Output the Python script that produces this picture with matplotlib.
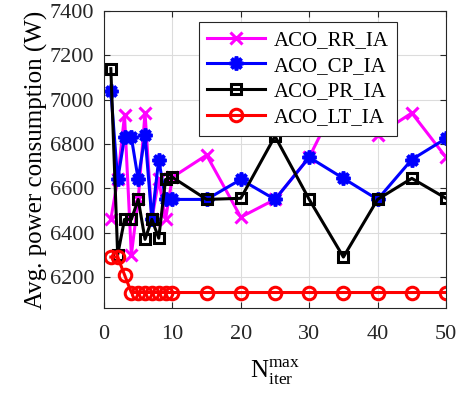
import matplotlib
matplotlib.use('Agg')
import matplotlib.pyplot as plt

plt.rcParams['font.family'] = ['Liberation Serif', 'DejaVu Serif']
plt.rcParams['mathtext.fontset'] = 'custom'
plt.rcParams['mathtext.rm'] = 'Liberation Serif'

# N_iter^max values
iters = [1, 2, 3, 4, 5, 6, 7, 8, 9, 10, 15, 20, 25, 30, 35, 40, 45, 50]

rr = [6460, 6640, 6930, 6300, 6550, 6940, 6460, 6640, 6460, 6650,
      6750, 6470, 6550, 6740, 7050, 6840, 6940, 6740]
cp = [7040, 6640, 6830, 6830, 6640, 6840, 6460, 6730, 6550, 6550,
      6550, 6640, 6550, 6740, 6645, 6550, 6730, 6825]
pr = [7140, 6300, 6460, 6460, 6550, 6370, 6460, 6375, 6640, 6650,
      6550, 6555, 6835, 6550, 6290, 6550, 6645, 6555]
lt = [6290, 6290, 6210, 6130, 6130, 6130, 6130, 6130, 6130, 6130,
      6130, 6130, 6130, 6130, 6130, 6130, 6130, 6130]

fig = plt.figure(figsize=(4.63, 3.99), dpi=100)
ax = fig.add_axes([0.2246, 0.228, 0.7387, 0.7444])

ax.plot(iters, rr, color='magenta', lw=2.2, marker='x', ms=8, mew=2.2, label='ACO_RR_IA')
ax.plot(iters, cp, color='blue', lw=2.2, marker=(8, 2, 0), ms=10, mew=2.6, label='ACO_CP_IA')
ax.plot(iters, pr, color='black', lw=2.2, marker='s', ms=7.5, mew=2.2, mfc='none', label='ACO_PR_IA')
ax.plot(iters, lt, color='red', lw=2.2, marker='o', ms=9, mew=2.2, mfc='none', label='ACO_LT_IA')

ax.set_xlim(0, 50)
ax.set_ylim(6060, 7400)
ax.set_xticks(range(0, 51, 10))
ax.set_yticks(range(6200, 7401, 200))
ax.grid(True, color='#dcdcdc', lw=0.8)
ax.set_axisbelow(True)
ax.tick_params(direction='in', labelsize=16, colors='#262626', top=True, right=True, length=4)
ax.tick_params(axis='x', pad=12)
ax.tick_params(axis='y', pad=7)
for s in ax.spines.values():
    s.set_color('#262626')
    s.set_linewidth(0.8)

ax.set_ylabel('Avg. power consumption (W)', fontsize=18, labelpad=1)
ax.set_xlabel(r'$\mathrm{N}_{\mathrm{iter}}^{\mathrm{max}}$', fontsize=18, labelpad=10)

leg = ax.legend(loc='upper right', bbox_to_anchor=(0.857, 0.963), borderaxespad=0,
                fontsize=15, fancybox=False, edgecolor='#262626', framealpha=1,
                handlelength=2.8, borderpad=0.4, labelspacing=0.3, handletextpad=0.4)
leg.get_frame().set_linewidth(0.8)

fig.savefig('out.png', dpi=100)
